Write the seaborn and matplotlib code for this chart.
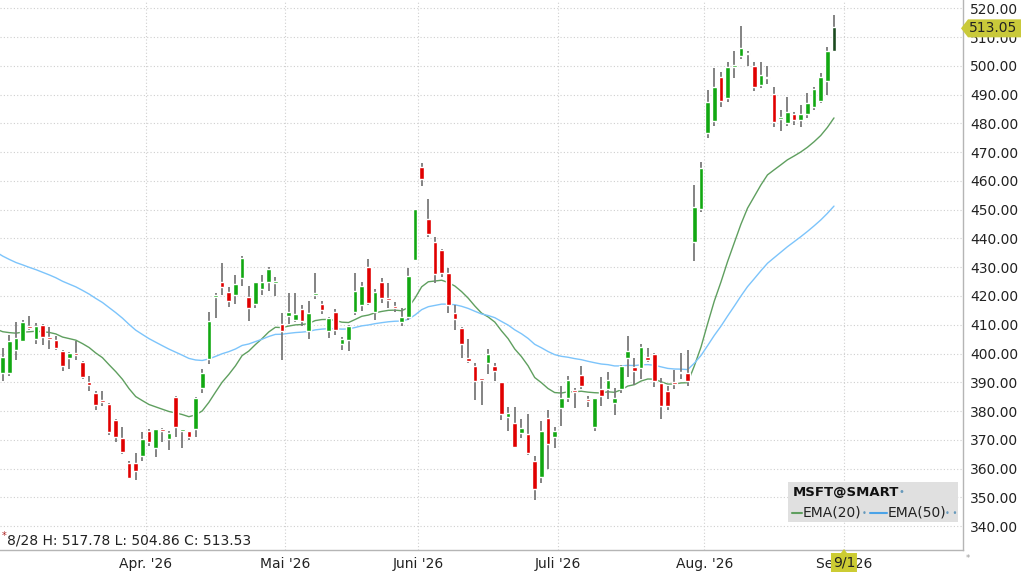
import numpy as np
import pandas as pd
import matplotlib
matplotlib.use("Agg")
import matplotlib.pyplot as plt
from matplotlib.patches import Polygon, Rectangle
import seaborn as sns

# --- data ---
holidays = ["2026-04-03", "2026-05-25", "2026-06-19", "2026-07-03"]
dates = pd.bdate_range("2026-03-02", "2026-08-28")
dates = dates[~dates.isin(pd.to_datetime(holidays))]

opens = [393.1, 393.2, 401.3, 404.5, 409.2, 405.0, 409.9, 405.7, 404.7, 400.9,
         398.3, 400.1, 397.2, 390.0, 386.2, 383.9, 382.5, 376.9, 370.8, 361.9,
         361.9, 364.4, 373.2, 367.1, 373.7, 370.2, 385.0, 373.1, 372.9, 373.7,
         387.9, 398.1, 419.8, 424.7, 421.3, 420.4, 426.4, 419.8, 417.1, 422.5,
         424.7, 424.5, 410.3, 413.1, 411.5, 415.4, 408.0, 420.4, 417.2, 408.0,
         414.6, 403.2, 404.7, 414.6, 416.9, 430.0, 414.6, 424.7, 419.4, 416.5,
         411.1, 412.8, 432.5, 465.0, 446.7, 438.7, 436.0, 427.9, 414.2, 409.0,
         398.6, 395.5, 391.4, 396.6, 395.8, 390.0, 377.9, 375.8, 372.3, 371.9,
         362.7, 357.2, 377.5, 371.1, 381.0, 384.6, 387.4, 392.6, 384.1, 374.6,
         387.6, 387.6, 382.9, 387.6, 398.4, 395.2, 394.9, 398.9, 399.7, 389.9,
         387.1, 390.1, 393.1, 393.4, 438.9, 450.2, 476.8, 481.0, 496.3, 488.7,
         499.6, 503.6, 504.6, 500.0, 493.4, 496.3, 490.1, 481.6, 480.3, 483.3,
         481.2, 483.3, 485.8, 487.9, 494.9, 505.3]
highs = [401.8, 406.5, 411.1, 411.7, 413.1, 410.5, 410.2, 409.1, 406.1, 401.2,
         400.4, 404.4, 397.5, 392.2, 387.1, 387.1, 382.8, 377.1, 374.6, 362.5,
         365.3, 372.8, 373.8, 373.9, 374.0, 372.9, 385.3, 373.7, 373.1, 384.8,
         394.5, 414.6, 421.0, 431.6, 423.3, 427.3, 433.9, 423.5, 424.9, 427.3,
         430.0, 426.7, 414.0, 421.0, 421.0, 416.9, 418.3, 428.1, 418.3, 412.8,
         415.4, 405.9, 409.8, 428.1, 425.0, 432.8, 422.3, 426.2, 424.4, 418.0,
         415.7, 429.6, 450.4, 466.4, 453.6, 440.4, 436.3, 429.6, 416.9, 409.3,
         405.0, 396.6, 391.6, 401.5, 396.6, 390.2, 381.3, 381.5, 377.2, 378.9,
         364.4, 376.7, 380.4, 374.3, 388.7, 392.2, 387.9, 395.7, 385.3, 384.7,
         391.7, 393.7, 387.9, 395.9, 406.1, 398.4, 403.3, 401.8, 400.3, 391.4,
         388.7, 394.3, 400.3, 401.2, 458.6, 466.7, 491.6, 499.2, 498.0, 501.5,
         505.3, 513.9, 505.3, 501.5, 501.5, 500.0, 492.6, 484.7, 489.3, 484.1,
         486.4, 490.5, 492.6, 497.4, 506.7, 517.78]
lows = [390.3, 392.2, 397.8, 404.0, 408.2, 403.4, 402.9, 401.5, 401.3, 394.1,
        394.5, 397.8, 391.1, 387.1, 380.2, 381.6, 371.7, 369.4, 365.1, 356.3,
        356.1, 362.8, 368.0, 364.0, 369.4, 366.5, 371.1, 367.1, 370.0, 371.1,
        386.2, 396.4, 412.3, 420.4, 416.3, 417.2, 423.5, 411.3, 415.7, 420.4,
        421.8, 420.0, 397.8, 410.3, 410.8, 409.4, 405.0, 418.9, 413.8, 405.3,
        406.5, 401.3, 400.9, 413.4, 414.9, 416.9, 411.5, 417.5, 415.7, 414.6,
        409.4, 411.7, 432.3, 458.3, 440.4, 424.4, 426.5, 414.2, 408.2, 398.4,
        396.6, 383.9, 382.1, 392.9, 390.6, 376.9, 373.2, 367.1, 370.5, 364.8,
        349.1, 355.1, 359.8, 367.1, 374.8, 383.3, 381.0, 387.6, 381.3, 373.2,
        381.6, 384.1, 378.7, 386.4, 392.0, 389.1, 391.1, 397.2, 388.5, 377.3,
        380.4, 387.6, 391.1, 388.7, 432.3, 449.3, 474.8, 479.1, 485.6, 487.6,
        495.7, 502.3, 500.0, 491.4, 492.2, 493.7, 478.7, 477.2, 479.1, 479.5,
        478.7, 481.8, 484.7, 487.2, 489.9, 504.86]
closes = [398.9, 404.2, 405.3, 410.8, 408.8, 409.6, 405.9, 405.0, 401.8, 395.5,
          400.1, 399.5, 392.0, 389.1, 382.1, 383.2, 372.6, 371.1, 365.9, 356.7,
          359.0, 370.2, 369.4, 373.7, 372.9, 372.3, 374.6, 373.5, 370.9, 384.5,
          393.2, 411.3, 420.4, 423.0, 418.3, 424.1, 433.1, 415.7, 424.7, 424.8,
          429.3, 424.7, 408.0, 414.6, 413.8, 411.3, 414.0, 421.0, 415.2, 412.3,
          408.2, 405.1, 409.6, 421.9, 423.5, 417.5, 421.5, 419.2, 418.6, 415.9,
          412.6, 427.0, 450.1, 460.6, 441.6, 427.7, 428.1, 416.9, 411.9, 403.3,
          397.4, 390.6, 390.8, 399.9, 394.1, 379.0, 379.2, 367.4, 374.0, 365.3,
          352.8, 372.9, 368.6, 373.1, 384.6, 390.8, 386.8, 388.7, 383.6, 384.5,
          385.3, 390.8, 384.7, 395.7, 401.0, 393.9, 402.4, 397.8, 390.6, 381.6,
          381.8, 389.4, 393.5, 390.6, 451.1, 464.4, 487.6, 492.8, 487.8, 499.7,
          500.1, 506.1, 504.0, 492.6, 496.8, 495.7, 480.6, 481.9, 484.1, 481.2,
          483.3, 487.2, 491.9, 496.3, 505.2, 513.53]

# EMA values on the day before the first candle (read from the left edge)
ema20_seed = 408.5
ema50_seed = 435.3

month_labels = ["Apr. '26", "Mai '26", "Juni '26", "Juli '26", "Aug. '26", "Sep. '26"]
month_starts = ["2026-04-01", "2026-05-01", "2026-06-01", "2026-07-01", "2026-08-03", "2026-09-01"]
yticks = list(range(340, 521, 10))
last_price = 513.05
info_text = "8/28 H: 517.78 L: 504.86 C: 513.53"

# --- build frames ---
df = pd.DataFrame({"date": dates, "open": opens, "high": highs, "low": lows, "close": closes})
df["idx"] = np.arange(len(df))
up = df["close"] >= df["open"]

e20 = pd.Series([ema20_seed] + closes).ewm(span=20, adjust=False).mean()
e50 = pd.Series([ema50_seed] + closes).ewm(span=50, adjust=False).mean()
ema = pd.DataFrame({"idx": np.arange(-1, len(df)), "ema20": e20.values, "ema50": e50.values})

# month positions in trading-day index (gridline sits between candles)
all_days = pd.bdate_range("2026-03-02", "2026-09-30")
all_days = list(all_days[~all_days.isin(pd.to_datetime(holidays))])
month_pos = [all_days.index(pd.Timestamp(d)) - 0.5 for d in month_starts]

# --- plot ---
sns.set_style("white")
plt.rcParams["font.family"] = ["DejaVu Sans"]

W, H = 1024, 575
fig = plt.figure(figsize=(W / 100, H / 100), dpi=100)
ax = fig.add_axes([0, 25 / H, 963 / W, 550 / H])

ax.set_xlim(-0.406, 144.4)
ax.set_ylim(331.7, 522.9)

# grid
for y in yticks:
    ax.axhline(y, color="#cfcfcf", lw=0.8, ls=(0, (1, 2)), zorder=0)
for x in month_pos:
    ax.axvline(x, color="#cfcfcf", lw=0.8, ls=(0, (1, 2)), zorder=0)

# EMA lines
sns.lineplot(data=ema, x="idx", y="ema20", color="#5f9f5f", lw=1.0, ax=ax, zorder=2)
sns.lineplot(data=ema, x="idx", y="ema50", color="#7cc4fb", lw=1.0, ax=ax, zorder=2)

# candles
ax.vlines(df["idx"], df["low"], df["high"], color="#7a7a7a", lw=1.3, zorder=3)
body_lo = np.minimum(df["open"], df["close"])
body_h = np.maximum(np.abs(df["close"] - df["open"]), 0.6)
colors = np.where(up, "#12a812", "#e00000").astype(object)
colors[-1] = "#1b4a1f"
ax.bar(df["idx"], body_h, bottom=body_lo, width=0.7, color=list(colors), zorder=4)

# axes styling
for s in ["top", "left"]:
    ax.spines[s].set_visible(False)
for s in ["bottom", "right"]:
    ax.spines[s].set_color("#b5b5b5")
    ax.spines[s].set_linewidth(1.0)
ax.set_xlabel("")
ax.set_ylabel("")
ax.yaxis.tick_right()
ax.set_yticks(yticks)
ax.set_yticklabels([f"{v:.2f}" for v in yticks])
ax.set_xticks(month_pos)
ax.set_xticklabels(month_labels)
ax.tick_params(axis="y", length=0, pad=5, labelsize=10, labelcolor="#222222")
ax.tick_params(axis="x", length=0, pad=5, labelsize=10, labelcolor="#222222")

# last price marker on the right
yp = ax.transData.transform((0, last_price))[1]
fig.patches.append(Polygon([(961, yp), (968, yp + 9), (1021, yp + 9), (1021, yp - 9), (968, yp - 9)],
                           closed=True, transform=None, fc="#c9c93a", ec="none", zorder=5))
fig.text(969 / W, yp / H, f"{last_price:.2f}", ha="left", va="center", fontsize=10,
         color="#222222", zorder=7)

# date cursor marker at the bottom
xp = ax.transData.transform((month_pos[-1], 0))[0]
fig.patches.append(Polygon([(xp - 13, 3), (xp + 13, 3), (xp + 13, 22), (xp + 3, 22), (xp, 26),
                            (xp - 3, 22), (xp - 13, 22)],
                           closed=True, transform=None, fc="#cccc33", ec="none", zorder=5))
fig.text(xp / W, 12.5 / H, "9/1", ha="center", va="center", fontsize=10, color="#222222", zorder=7)

# OHLC info text
fig.text(2 / W, (H - 536) / H, "*", color="#aa2222", fontsize=7, ha="left", va="center")
fig.text(7 / W, (H - 540) / H, info_text, ha="left", va="center", fontsize=10, color="#222222")
fig.text(966 / W, (H - 559) / H, "*", color="#999999", fontsize=6, ha="left", va="center")

# legend box
fig.patches.append(Rectangle((788, H - 522), 170, 40, transform=None, fc="#e0e0e0", ec="none", zorder=5))
fig.text(793 / W, (H - 492) / H, "MSFT@SMART", fontweight="bold", fontsize=9.5, color="#111111",
         va="center", zorder=7)
fig.text(899 / W, (H - 492) / H, "\u2022", fontsize=7, color="#6699bb", va="center", zorder=7)
fig.lines.append(plt.Line2D([792, 802], [H - 513, H - 513], transform=None, color="#5f9f5f", lw=1.5, zorder=7))
fig.text(803 / W, (H - 513) / H, "EMA(20)", fontsize=10, color="#222222", va="center", zorder=7)
fig.text(862 / W, (H - 513) / H, "\u2022", fontsize=6, color="#6699bb", va="center", zorder=7)
fig.lines.append(plt.Line2D([870, 887], [H - 513, H - 513], transform=None, color="#4aa3e8", lw=1.5, zorder=7))
fig.text(888 / W, (H - 513) / H, "EMA(50)", fontsize=10, color="#222222", va="center", zorder=7)
fig.text(945 / W, (H - 513) / H, "\u2022 \u2022", fontsize=6, color="#6699bb", va="center", zorder=7)

fig.savefig("out.png", dpi=100)
